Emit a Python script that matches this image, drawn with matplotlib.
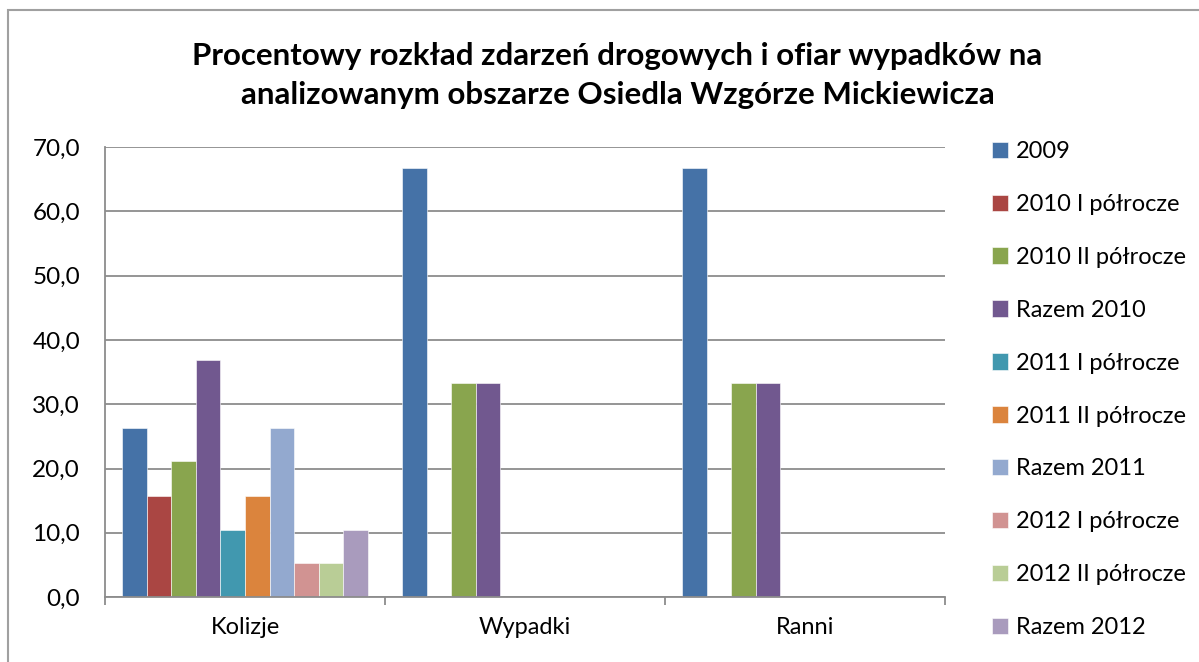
import matplotlib
matplotlib.use("Agg")
import matplotlib.pyplot as plt
import numpy as np
from matplotlib.patches import Rectangle
from matplotlib.ticker import FuncFormatter, FixedLocator

categories = ["Kolizje", "Wypadki", "Ranni"]
series_names = ["2009", "2010 I półrocze", "2010 II półrocze", "Razem 2010",
                "2011 I półrocze", "2011 II półrocze", "Razem 2011",
                "2012 I półrocze", "2012 II półrocze", "Razem 2012"]
s2009 = [26.3, 66.7, 66.7]
s2010_1 = [15.8, 0.0, 0.0]
s2010_2 = [21.1, 33.3, 33.3]
s2010_r = [36.8, 33.3, 33.3]
s2011_1 = [10.5, 0.0, 0.0]
s2011_2 = [15.8, 0.0, 0.0]
s2011_r = [26.3, 0.0, 0.0]
s2012_1 = [5.3, 0.0, 0.0]
s2012_2 = [5.3, 0.0, 0.0]
s2012_r = [10.5, 0.0, 0.0]
series_values = [s2009, s2010_1, s2010_2, s2010_r, s2011_1, s2011_2,
                 s2011_r, s2012_1, s2012_2, s2012_r]
colors = ["#4572A7", "#AA4643", "#89A54E", "#71588F", "#4198AF",
          "#DB843D", "#93A9CF", "#D19392", "#B9CD96", "#A99BBD"]
title = "Procentowy rozkład zdarzeń drogowych i ofiar wypadków na\nanalizowanym obszarze Osiedla Wzgórze Mickiewicza"

plt.rcParams['font.family'] = ['Lato', 'DejaVu Sans']

fig = plt.figure(figsize=(11.99, 6.62), dpi=100)
ax = fig.add_axes([0.0876, 0.098, 0.7006, 0.680])

n = len(series_names)
bw = 0.0878
x = np.arange(len(categories))
for i, (name, vals, c) in enumerate(zip(series_names, series_values, colors)):
    off = (i - (n - 1) / 2) * bw
    ax.bar(x + off, vals, width=bw, color=c, label=name,
           edgecolor="white", linewidth=0.4)

ax.set_xlim(-0.5, len(categories) - 0.5)
ax.set_ylim(0, 70)
ax.yaxis.set_major_locator(FixedLocator(np.arange(0, 71, 10)))
ax.yaxis.set_major_formatter(FuncFormatter(lambda v, p: f"{v:.1f}".replace(".", ",")))
ax.grid(axis="y", color="#8c8c8c", linewidth=1.3)
ax.set_axisbelow(True)
for s in ["top", "right"]:
    ax.spines[s].set_visible(False)
for s in ["left", "bottom"]:
    ax.spines[s].set_color("#8c8c8c")
    ax.spines[s].set_linewidth(1.3)

ax.set_xticks(x)
ax.set_xticklabels(categories, fontsize=17)
ax.tick_params(axis="x", length=0, pad=14)
ax.set_xticks(np.arange(-0.5, len(categories)), minor=True)
ax.tick_params(axis="x", which="minor", length=6, color="#8c8c8c", width=1.3)
ax.tick_params(axis="y", labelsize=17.5, length=0, pad=18)

fig.text(0.515, 0.886, title, ha="center", va="center", fontsize=22.5,
         fontweight="bold", linespacing=1.5)

leg = ax.legend(loc="upper left", bbox_to_anchor=(1.03, 1.06), frameon=False,
                fontsize=17, handlelength=0.7, handleheight=0.7,
                handletextpad=0.35, labelspacing=1.35)

fig.patches.append(Rectangle((0.007, -0.05), 1.2, 1.035, transform=fig.transFigure,
                             fill=False, edgecolor="#a0a0a0", linewidth=1.5))

fig.savefig("out.png", dpi=100)
